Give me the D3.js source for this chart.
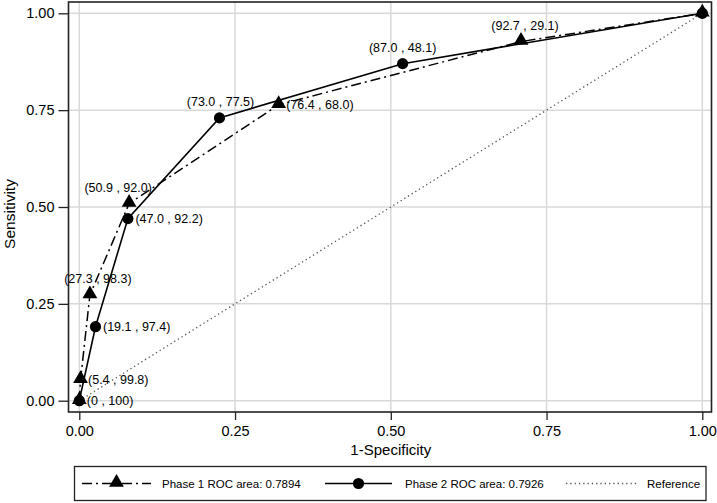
<!DOCTYPE html>
<html>
<head>
<meta charset="utf-8">
<script src="https://cdn.jsdelivr.net/npm/d3@7"></script>
<style>
  body { margin: 0; background: #fff; }
  text { font-family: "Liberation Sans", Arial, Helvetica, sans-serif; fill: #000; }
</style>
</head>
<body>
<div id="chart"></div>
<script>
// DATA
////////////////////////////
var phase1X = [0, 0.002, 0.017, 0.080, 0.320, 0.709, 1];
var phase1Y = [0, 0.054, 0.273, 0.509, 0.764, 0.927, 1];
var phase1Labels = ["", "(5.4 , 99.8)", "(27.3 , 98.3)", "(50.9 , 92.0)", "(76.4 , 68.0)", "(92.7 , 29.1)", ""];

var phase2X = [0, 0.026, 0.078, 0.225, 0.519, 1];
var phase2Y = [0, 0.191, 0.470, 0.730, 0.870, 1];
var phase2Labels = ["(0 , 100)", "(19.1 , 97.4)", "(47.0 , 92.2)", "(73.0 , 77.5)", "(87.0 , 48.1)", ""];

var tickValues = [0, 0.25, 0.5, 0.75, 1];
var legendLabels = ["Phase 1 ROC area: 0.7894", "Phase 2 ROC area: 0.7926", "Reference"];

// label placement (r = right of marker, t = above), with small horizontal nudges
var phase1Pos = ["r", "r", "t", "t", "r", "t", "r"];
var phase1Nudge = [0, 0, 8, -11, 0, 4, 0];
var phase2Pos = ["r", "r", "r", "t", "t", "r"];
var phase2Nudge = [0, 0, 0, 1, 0, 0];

// SETUP
////////////////////////////
var width = 717, height = 503;

var svg = d3.select("#chart").append("svg")
    .attr("width", width)
    .attr("height", height);

var x = d3.scaleLinear().domain([0, 1]).range([79.3, 702.3]);
var y = d3.scaleLinear().domain([0, 1]).range([400.7, 13.3]);

// plot frame bounds
var frame = { left: 68.5, right: 711.5, top: 2, bottom: 412 };

// grid
svg.append("g").selectAll("line.gx")
  .data(tickValues).enter().append("line")
    .attr("x1", d => x(d)).attr("x2", d => x(d))
    .attr("y1", frame.top).attr("y2", frame.bottom)
    .attr("stroke", "#d9d9d9").attr("stroke-width", 1.5);
svg.append("g").selectAll("line.gy")
  .data(tickValues).enter().append("line")
    .attr("y1", d => y(d)).attr("y2", d => y(d))
    .attr("x1", frame.left).attr("x2", frame.right)
    .attr("stroke", "#d9d9d9").attr("stroke-width", 1.5);

// frame
svg.append("rect")
    .attr("x", frame.left).attr("y", frame.top)
    .attr("width", frame.right - frame.left)
    .attr("height", frame.bottom - frame.top)
    .attr("fill", "none").attr("stroke", "#222").attr("stroke-width", 1.6);

// axes (ticks + labels only, frame drawn above)
var xAxis = svg.append("g")
    .attr("transform", "translate(0," + frame.bottom + ")")
    .call(d3.axisBottom(x).tickValues(tickValues).tickFormat(d3.format(".2f")).tickSize(8).tickPadding(6));
var yAxis = svg.append("g")
    .attr("transform", "translate(" + frame.left + ",0)")
    .call(d3.axisLeft(y).tickValues(tickValues).tickFormat(d3.format(".2f")).tickSize(10).tickPadding(4));
[xAxis, yAxis].forEach(function(a) {
  a.select(".domain").remove();
  a.selectAll(".tick line").attr("stroke", "#222").attr("stroke-width", 1.3);
  a.selectAll(".tick text")
    .style("font-family", "'Liberation Sans', Arial, Helvetica, sans-serif")
    .style("font-size", "14.5px").attr("fill", "#000");
});

// axis titles
svg.append("text")
    .attr("x", x(0.5)).attr("y", 455)
    .attr("text-anchor", "middle")
    .style("font-size", "15px")
    .text("1-Specificity");
svg.append("text")
    .attr("transform", "translate(15,214) rotate(-90)")
    .attr("text-anchor", "middle")
    .style("font-size", "15.5px")
    .text("Sensitivity");

// reference diagonal
svg.append("line")
    .attr("x1", x(0)).attr("y1", y(0))
    .attr("x2", x(1)).attr("y2", y(1))
    .attr("stroke", "#555").attr("stroke-width", 1.3)
    .attr("stroke-dasharray", "1.3,3");

var line = d3.line().x(d => x(d[0])).y(d => y(d[1]));
var tri = d3.symbol().type(d3.symbolTriangle).size(95);

var p1 = phase1X.map((v, i) => [v, phase1Y[i]]);
var p2 = phase2X.map((v, i) => [v, phase2Y[i]]);

// phase 1 : dash-dot + triangles
svg.append("path")
    .datum(p1)
    .attr("d", line)
    .attr("fill", "none").attr("stroke", "#000").attr("stroke-width", 1.5)
    .attr("stroke-dasharray", "10,4,2,4");
svg.append("g").selectAll("path")
  .data(p1).enter().append("path")
    .attr("d", tri)
    .attr("transform", d => "translate(" + x(d[0]) + "," + (y(d[1]) - 1) + ")")
    .attr("fill", "#000");

// phase 2 : solid + circles
svg.append("path")
    .datum(p2)
    .attr("d", line)
    .attr("fill", "none").attr("stroke", "#000").attr("stroke-width", 1.6);
svg.append("g").selectAll("circle")
  .data(p2).enter().append("circle")
    .attr("cx", d => x(d[0])).attr("cy", d => y(d[1]))
    .attr("r", 5.6)
    .attr("fill", "#000");

// marker labels
function addLabels(pts, labels, pos, nudge) {
  svg.append("g").selectAll("text")
    .data(pts).enter().append("text")
      .attr("x", (d, i) => pos[i] == "t" ? x(d[0]) + nudge[i] : x(d[0]) + 7.5)
      .attr("y", (d, i) => pos[i] == "t" ? y(d[1]) - 11.5 : y(d[1]) + 4.5)
      .attr("text-anchor", (d, i) => pos[i] == "t" ? "middle" : "start")
      .style("font-size", "12.5px")
      .text((d, i) => labels[i]);
}
addLabels(p1, phase1Labels, phase1Pos, phase1Nudge);
addLabels(p2, phase2Labels, phase2Pos, phase2Nudge);

// LEGEND
////////////////////////////
var leg = svg.append("g");
leg.append("rect")
    .attr("x", 74.5).attr("y", 466.5)
    .attr("width", 631.5).attr("height", 34)
    .attr("fill", "#fff").attr("stroke", "#222").attr("stroke-width", 1.3);

var ly = 483.5;
var keys = [
  { x1: 82, x2: 151, dash: "10,4,2,4", stroke: "#000", w: 1.5, mark: "tri", tx: 162 },
  { x1: 325, x2: 392, dash: null, stroke: "#000", w: 1.6, mark: "circle", tx: 405 },
  { x1: 566, x2: 637, dash: "1.3,3", stroke: "#555", w: 1.3, mark: null, tx: 647 }
];
keys.forEach(function(k, i) {
  leg.append("line")
      .attr("x1", k.x1).attr("x2", k.x2).attr("y1", ly).attr("y2", ly)
      .attr("stroke", k.stroke).attr("stroke-width", k.w)
      .attr("stroke-dasharray", k.dash);
  var cx = (k.x1 + k.x2) / 2;
  if (k.mark == "tri") {
    leg.append("path").attr("d", tri)
        .attr("transform", "translate(" + cx + "," + (ly - 1) + ")").attr("fill", "#000");
  } else if (k.mark == "circle") {
    leg.append("circle").attr("cx", cx).attr("cy", ly).attr("r", 5.6).attr("fill", "#000");
  }
  leg.append("text")
      .attr("x", k.tx).attr("y", ly + 4.5)
      .style("font-size", "11.5px")
      .text(legendLabels[i]);
});
</script>
</body>
</html>
